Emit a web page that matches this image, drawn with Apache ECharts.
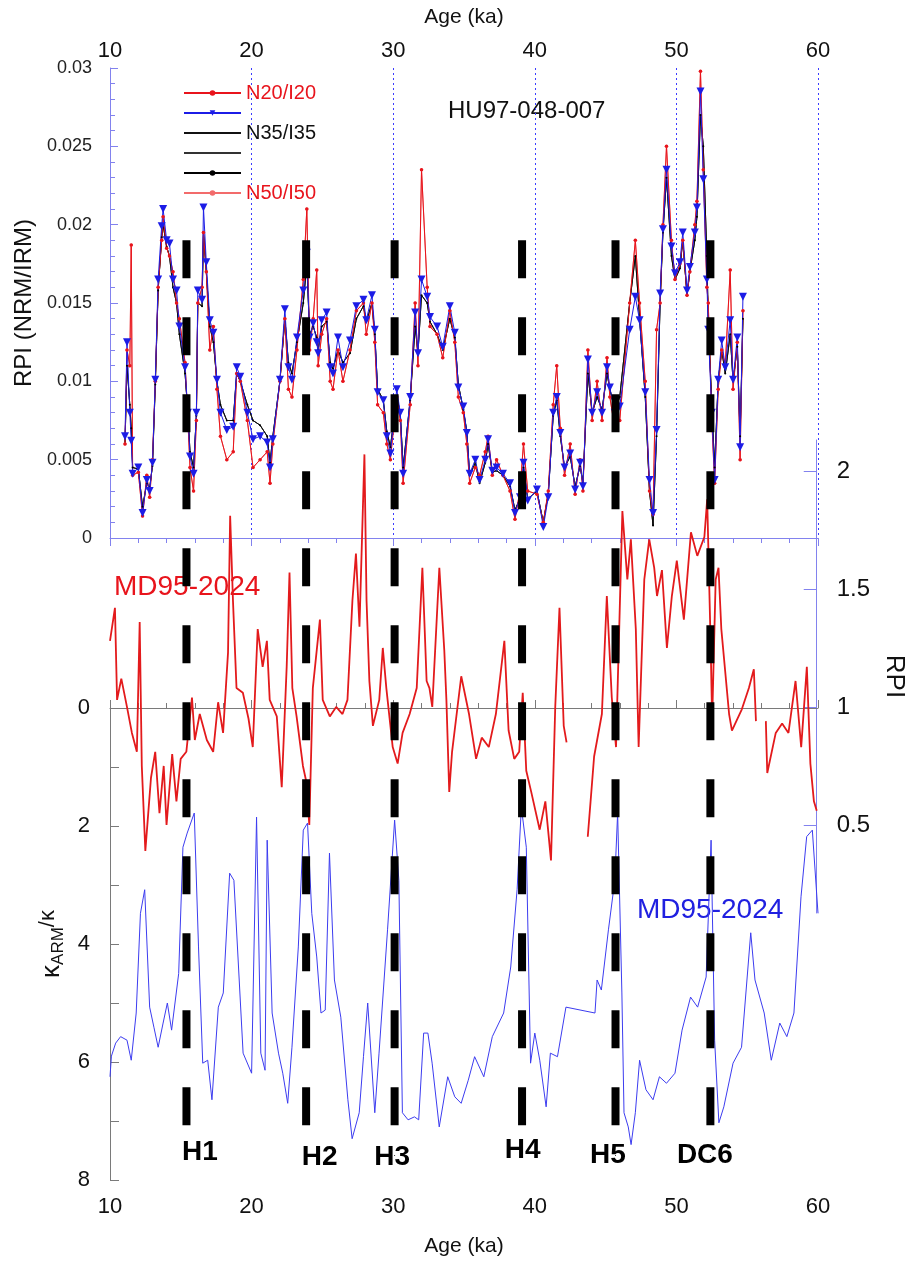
<!DOCTYPE html>
<html>
<head>
<meta charset="utf-8">
<script src="https://cdn.jsdelivr.net/npm/echarts@6/dist/echarts.min.js"></script>
<style>
html, body { margin: 0; padding: 0; background: #fff; }
#chart { width: 915px; height: 1261px; }
</style>
</head>
<body>
<div id="chart"></div>
<script>
// HU97-048-007 relative paleointensity
var huAge = [
  11.06, 11.2, 11.4, 11.5, 11.6, 12.0, 12.3, 12.6, 12.8, 13.0,
  13.2, 13.4, 13.65, 13.75, 14.0, 14.2, 14.45, 14.7, 14.9, 15.3,
  15.5, 15.65, 15.9, 16.1, 16.2, 16.5, 16.6, 16.8, 17.05, 17.3,
  17.55, 17.8, 18.25, 18.7, 18.95, 19.2, 19.7, 20.1, 20.6, 21.1,
  21.3, 21.5, 22.0, 22.35, 22.6, 22.85, 23.2, 23.65, 23.9, 24.1,
  24.35, 24.6, 24.7, 24.95, 25.3, 25.55, 25.75, 26.1, 26.45, 26.95,
  27.4, 27.9, 28.1, 28.5, 28.7, 28.9, 29.3, 29.55, 29.8, 30.25,
  30.5, 30.7, 31.2, 31.55, 31.75, 32.0, 32.4, 32.6, 33.1, 33.5,
  34.0, 34.35, 34.6, 34.95, 35.2, 35.4, 35.8, 36.1, 36.5, 36.7,
  37.0, 37.3, 37.75, 38.25, 38.6, 38.95, 39.2, 39.5, 40.15, 40.6,
  40.95, 41.3, 41.55, 41.8, 42.1, 42.5, 42.85, 43.2, 43.4, 43.75,
  44.05, 44.4, 44.75, 45.1, 45.3, 45.65, 46.0, 46.7, 47.1, 47.4,
  47.8, 48.1, 48.35, 48.6, 48.85, 49.05, 49.3, 49.65, 49.9, 50.25,
  50.45, 50.75, 50.95, 51.3, 51.45, 51.7, 51.9, 52.15, 52.25, 52.5,
  52.7, 52.95, 53.2, 53.45, 53.8, 54.0, 54.3, 54.5, 54.7
];
var huN20 = [
  0.0060, 0.0120, 0.0110, 0.0187, 0.0040, 0.0042, 0.0014, 0.0040, 0.0026, 0.0050,
  0.0100, 0.0160, 0.0190, 0.0205, 0.0185, 0.0180, 0.0170, 0.0150, 0.0140, 0.0112,
  0.0075, 0.0045, 0.0030, 0.0075, 0.0150, 0.0160, 0.0195, 0.0170, 0.0120, 0.0135,
  0.0095, 0.0065, 0.0050, 0.0055, 0.0105, 0.0100, 0.0075, 0.0045, 0.0050, 0.0055,
  0.0035, 0.0060, 0.0100, 0.0140, 0.0095, 0.0090, 0.0120, 0.0165, 0.0210, 0.0120,
  0.0140, 0.0171, 0.0110, 0.0130, 0.0140, 0.0100, 0.0095, 0.0120, 0.0100, 0.0120,
  0.0145, 0.0150, 0.0130, 0.0150, 0.0125, 0.0085, 0.0080, 0.0060, 0.0050, 0.0090,
  0.0075, 0.0035, 0.0085, 0.0150, 0.0110, 0.0235, 0.0160, 0.0135, 0.0130, 0.0115,
  0.0145, 0.0125, 0.0090, 0.0080, 0.0060, 0.0035, 0.0045, 0.0040, 0.0055, 0.0065,
  0.0040, 0.0050, 0.0040, 0.0030, 0.0012, 0.0030, 0.0060, 0.0030, 0.0028, 0.0010,
  0.0030, 0.0085, 0.0110, 0.0070, 0.0040, 0.0060, 0.0028, 0.0050, 0.0030, 0.0120,
  0.0075, 0.0100, 0.0075, 0.0115, 0.0090, 0.0070, 0.0075, 0.0150, 0.0190, 0.0150,
  0.0100, 0.0030, 0.0015, 0.0133, 0.0150, 0.0200, 0.0250, 0.0190, 0.0165, 0.0175,
  0.0190, 0.0155, 0.0170, 0.0200, 0.0215, 0.0298, 0.0235, 0.0160, 0.0150, 0.0075,
  0.0035, 0.0095, 0.0120, 0.0110, 0.0171, 0.0095, 0.0125, 0.0050, 0.0145
];
var huN35 = [
  0.0065, 0.0125, 0.0080, 0.0062, 0.0041, 0.0045, 0.0016, 0.0037, 0.0030, 0.0048,
  0.0101, 0.0165, 0.0199, 0.0210, 0.0190, 0.0188, 0.0165, 0.0158, 0.0135, 0.0109,
  0.0080, 0.0052, 0.0041, 0.0080, 0.0158, 0.0152, 0.0211, 0.0176, 0.0139, 0.0131,
  0.0101, 0.0080, 0.0069, 0.0071, 0.0109, 0.0103, 0.0080, 0.0063, 0.0065, 0.0061,
  0.0045, 0.0063, 0.0101, 0.0146, 0.0109, 0.0101, 0.0128, 0.0158, 0.0182, 0.0128,
  0.0137, 0.0125, 0.0118, 0.0139, 0.0144, 0.0109, 0.0105, 0.0128, 0.0109, 0.0126,
  0.0148, 0.0152, 0.0139, 0.0155, 0.0133, 0.0093, 0.0088, 0.0065, 0.0054, 0.0095,
  0.0080, 0.0041, 0.0090, 0.0144, 0.0118, 0.0165, 0.0154, 0.0141, 0.0135, 0.0122,
  0.0148, 0.0131, 0.0096, 0.0084, 0.0067, 0.0041, 0.0050, 0.0037, 0.0050, 0.0063,
  0.0043, 0.0045, 0.0041, 0.0035, 0.0016, 0.0026, 0.0048, 0.0024, 0.0031, 0.0007,
  0.0026, 0.0080, 0.0090, 0.0067, 0.0045, 0.0054, 0.0031, 0.0048, 0.0033, 0.0114,
  0.0080, 0.0093, 0.0080, 0.0109, 0.0096, 0.0080, 0.0084, 0.0133, 0.0154, 0.0139,
  0.0093, 0.0037, 0.0016, 0.0069, 0.0156, 0.0197, 0.0235, 0.0186, 0.0169, 0.0176,
  0.0195, 0.0158, 0.0173, 0.0195, 0.0211, 0.0285, 0.0229, 0.0165, 0.0133, 0.0080,
  0.0037, 0.0101, 0.0126, 0.0109, 0.0139, 0.0101, 0.0128, 0.0058, 0.0154
];
var huBlack = [
  0.0060, 0.0110, 0.0085, 0.0070, 0.0045, 0.0044, 0.0020, 0.0035, 0.0032, 0.0046,
  0.0098, 0.0158, 0.0192, 0.0200, 0.0186, 0.0180, 0.0160, 0.0150, 0.0130, 0.0105,
  0.0080, 0.0055, 0.0045, 0.0078, 0.0150, 0.0148, 0.0195, 0.0170, 0.0135, 0.0125,
  0.0100, 0.0085, 0.0075, 0.0075, 0.0105, 0.0100, 0.0085, 0.0075, 0.0072, 0.0065,
  0.0048, 0.0065, 0.0100, 0.0140, 0.0112, 0.0105, 0.0125, 0.0150, 0.0175, 0.0130,
  0.0135, 0.0128, 0.0120, 0.0135, 0.0138, 0.0112, 0.0108, 0.0120, 0.0112, 0.0118,
  0.0140, 0.0148, 0.0138, 0.0150, 0.0130, 0.0095, 0.0088, 0.0068, 0.0058, 0.0090,
  0.0080, 0.0045, 0.0088, 0.0135, 0.0118, 0.0155, 0.0150, 0.0138, 0.0130, 0.0120,
  0.0140, 0.0128, 0.0098, 0.0082, 0.0068, 0.0040, 0.0048, 0.0035, 0.0048, 0.0060,
  0.0042, 0.0043, 0.0040, 0.0033, 0.0018, 0.0025, 0.0045, 0.0025, 0.0030, 0.0010,
  0.0028, 0.0078, 0.0088, 0.0065, 0.0045, 0.0052, 0.0033, 0.0046, 0.0035, 0.0105,
  0.0080, 0.0090, 0.0082, 0.0105, 0.0095, 0.0082, 0.0090, 0.0150, 0.0180, 0.0140,
  0.0090, 0.0030, 0.0008, 0.0065, 0.0150, 0.0195, 0.0230, 0.0180, 0.0165, 0.0172,
  0.0190, 0.0155, 0.0170, 0.0190, 0.0205, 0.0270, 0.0250, 0.0180, 0.0140, 0.0085,
  0.0045, 0.0100, 0.0120, 0.0105, 0.0130, 0.0100, 0.0122, 0.0065, 0.0140
];

// MD95-2024 RPI (right axis)
var mdAge = [
  10.0, 10.35, 10.5, 10.8, 11.2, 11.55, 11.9, 12.1, 12.25, 12.5,
  12.9, 13.2, 13.5, 13.8, 14.0, 14.4, 14.7, 15.0, 15.4, 15.8,
  16.0, 16.35, 16.85, 17.3, 17.65, 18.0, 18.35, 18.5, 18.7, 18.95,
  19.4, 19.8, 20.1, 20.45, 20.8, 21.1, 21.3, 21.8, 22.15, 22.5,
  22.7, 22.9, 23.2, 23.65, 23.9, 24.1, 24.35, 24.85, 25.05, 25.55,
  26.0, 26.45, 26.8, 27.15, 27.4, 27.65, 28.0, 28.15, 28.35, 28.6,
  29.05, 29.3, 29.55, 30.0, 30.35, 30.7, 31.2, 31.7, 32.1, 32.4,
  32.6, 32.8, 33.3, 33.65, 33.8, 34.0, 34.2, 34.85, 35.4, 35.9,
  36.3, 36.8, 37.3, 37.9, 38.2, 38.6, 38.95, 39.2, 39.45, 39.8,
  40.4, 40.8, 41.2, 41.5, 41.8, 42.1, 42.3, 43.6, 43.8, 44.0,
  44.25, 44.8, 45.15, 45.5, 45.8, 46.25, 46.6, 46.85, 47.2, 47.4,
  47.8, 48.15, 48.5, 48.7, 49.05, 49.4, 49.75, 50.1, 50.6, 51.1,
  51.55, 52.05, 52.25, 52.5, 52.6, 52.85, 53.05, 53.25, 53.8, 54.0,
  54.7, 55.2, 55.55, 55.7, 56.0, 56.4, 56.5, 57.1, 57.55, 58.0,
  58.5, 58.9, 59.3, 59.55, 59.8, 60.0
];
var mdRpi = [
  1.28, 1.42, 1.03, 1.12, 1.00, 0.89, 0.81, 1.36, 0.75, 0.39,
  0.70, 0.81, 0.55, 0.75, 0.50, 0.80, 0.60, 0.78, 0.81, 1.04,
  0.86, 0.97, 0.86, 0.81, 1.02, 0.89, 1.23, 1.81, 1.45, 1.08,
  1.06, 0.95, 0.83, 1.33, 1.17, 1.28, 1.03, 0.96, 0.66, 1.17,
  1.57, 1.08, 0.96, 0.75, 0.68, 0.50, 1.08, 1.37, 1.03, 0.96,
  1.00, 0.97, 1.03, 1.45, 1.65, 1.34, 2.07, 1.45, 1.11, 0.92,
  1.03, 1.25, 1.08, 0.83, 0.76, 0.89, 0.97, 1.08, 1.59, 1.11,
  1.08, 1.00, 1.59, 1.24, 1.03, 0.64, 0.81, 1.13, 0.97, 0.78,
  0.87, 0.83, 0.97, 1.28, 0.90, 0.78, 0.81, 1.06, 0.73, 0.64,
  0.48, 0.60, 0.35, 1.00, 1.42, 0.92, 0.85, null, 0.45, 0.60,
  0.79, 0.97, 1.47, 1.04, 0.83, 1.83, 1.54, 1.71, 1.33, 0.83,
  1.54, 1.71, 1.59, 1.47, 1.58, 1.25, 1.47, 1.62, 1.37, 1.74,
  1.64, 1.72, 1.88, 1.25, 0.94, 1.54, 1.59, 1.33, 0.97, 0.90,
  0.99, 1.08, 1.16, 0.94, null, 0.94, 0.72, 0.89, 0.93, 0.89,
  1.11, 0.83, 1.17, 0.76, 0.60, 0.56
];

// MD95-2024 kARM/k (bottom panel, inverted axis)
var kAge = [
  10.0, 10.1, 10.4, 10.75, 11.2, 11.5, 11.85, 12.15, 12.45, 12.8,
  13.1, 13.4, 13.75, 14.05, 14.35, 14.85, 15.15, 15.45, 15.95, 16.25,
  16.55, 16.9, 17.2, 17.65, 18.0, 18.45, 18.75, 19.4, 20.0, 20.35,
  20.65, 20.95, 21.1, 21.45, 21.9, 22.2, 22.55, 22.85, 23.3, 23.65,
  23.95, 24.25, 24.6, 24.9, 25.2, 25.5, 25.85, 26.3, 26.8, 27.1,
  27.6, 27.9, 28.2, 28.7, 29.0, 29.6, 30.1, 30.4, 30.65, 31.05,
  31.5, 31.8, 32.15, 32.45, 32.75, 33.25, 33.85, 34.35, 34.8, 35.3,
  35.75, 36.4, 37.0, 37.8, 38.3, 38.75, 39.05, 39.4, 39.7, 40.0,
  40.35, 40.8, 41.1, 41.6, 42.2, 44.25, 44.4, 44.7, 45.2, 45.65,
  45.85, 46.15, 46.3, 46.6, 46.8, 47.1, 47.4, 47.85, 48.35, 48.8,
  49.3, 49.9, 50.4, 51.0, 51.5, 52.1, 52.45, 52.7, 53.0, 53.35,
  54.0, 54.6, 55.25, 55.55, 56.2, 56.7, 57.3, 57.8, 58.3, 58.8,
  59.2, 59.6, 60.0
];
var kVal = [
  6.25, 5.90, 5.68, 5.57, 5.63, 5.97, 5.17, 3.48, 3.08, 5.07,
  5.41, 5.75, 5.34, 5.00, 5.46, 4.50, 2.36, 2.12, 1.78, 4.05,
  6.02, 5.97, 6.64, 5.07, 4.83, 2.80, 2.92, 5.85, 6.19, 1.85,
  5.85, 6.14, 2.24, 5.17, 5.85, 6.19, 6.70, 5.75, 4.05, 2.07,
  1.95, 3.48, 4.22, 5.17, 5.12, 2.46, 4.61, 5.24, 6.64, 7.30,
  6.86, 5.91, 5.00, 6.86, 5.85, 3.76, 1.90, 2.92, 6.86, 6.98,
  6.93, 6.98, 5.51, 5.51, 6.02, 7.10, 6.25, 6.59, 6.70, 6.31,
  5.91, 6.25, 5.57, 5.17, 4.39, 3.08, 1.68, 2.36, 6.02, 5.51,
  5.97, 6.76, 5.85, 5.91, 5.07, 5.17, 4.61, 4.78, 3.76, 2.92,
  1.78, 4.83, 6.86, 7.10, 7.40, 6.86, 5.97, 6.47, 6.64, 6.25,
  6.36, 6.19, 5.46, 4.90, 5.07, 4.56, 2.24, 5.63, 7.03, 6.76,
  6.02, 5.75, 3.81, 4.61, 5.17, 5.97, 5.34, 5.57, 5.17, 3.20,
  2.18, 2.07, 3.48
];

// Heinrich events
var eventNames = ['H1', 'H2', 'H3', 'H4', 'H5', 'DC6'];
var eventAges = [15.4, 23.85, 30.1, 39.1, 45.7, 52.4];
var rpiTicks = [0.5, 1, 1.5, 2];

// styling only
var eventLabelShift = [[14, -3], [14, 2], [-2, 2], [1, -5], [-7, 0], [-5, 0]];
var dashTop = 0.155, dashBottom = 0.955, labelLevel = 0.978;
var blueAxis = '#8282ee';
var grayAxis = '#7a7a7a';
var font = '"Liberation Sans", Arial, sans-serif';

function pairs (xs, ys) {
  return xs.map(function (x, i) { return [x, ys[i]] })
}

var chart = echarts.init(document.getElementById('chart'), null, { renderer: 'canvas' })

var series = [
  { name: 'N50/I50', type: 'line', xAxisIndex: 0, yAxisIndex: 0, data: pairs(huAge, huN20),
    symbol: 'circle', symbolSize: 3, showAllSymbol: true,
    lineStyle: { color: '#f26b6b', width: 1 }, itemStyle: { color: '#f26b6b' } },
  { name: 'N35/I35', type: 'line', xAxisIndex: 0, yAxisIndex: 0, data: pairs(huAge, huBlack),
    symbol: 'none', lineStyle: { color: '#111', width: 0.8 }, itemStyle: { color: '#111' } },
  { name: '  ', type: 'line', xAxisIndex: 0, yAxisIndex: 0, data: pairs(huAge, huBlack),
    symbol: 'none', lineStyle: { color: '#333', width: 0.8 }, itemStyle: { color: '#333' } },
  { name: '   ', type: 'line', xAxisIndex: 0, yAxisIndex: 0, data: pairs(huAge, huBlack),
    symbol: 'circle', symbolSize: 2, showAllSymbol: true,
    lineStyle: { color: '#000', width: 0.8 }, itemStyle: { color: '#000' } },
  { name: 'N20/I20', type: 'line', xAxisIndex: 0, yAxisIndex: 0, data: pairs(huAge, huN20),
    symbol: 'circle', symbolSize: 3.5, showAllSymbol: true,
    lineStyle: { color: '#e8141c', width: 1 }, itemStyle: { color: '#e8141c' } },
  { name: ' ', type: 'line', xAxisIndex: 0, yAxisIndex: 0, data: pairs(huAge, huN35),
    symbol: 'triangle', symbolRotate: 180, symbolSize: 8, showAllSymbol: true,
    lineStyle: { color: '#1c1ce6', width: 1 }, itemStyle: { color: '#1c1ce6' } },
  { name: 'MD95-2024 RPI', type: 'line', xAxisIndex: 1, yAxisIndex: 1, data: pairs(mdAge, mdRpi),
    symbol: 'none', connectNulls: false, clip: false,
    lineStyle: { color: '#e31a1c', width: 1.8 } },
  { name: 'MD95-2024 kARM/k', type: 'line', xAxisIndex: 2, yAxisIndex: 2, data: pairs(kAge, kVal),
    symbol: 'none', lineStyle: { color: '#3c3cf0', width: 1 } }
]

eventAges.forEach(function (age, i) {
  series.push({
    name: eventNames[i], type: 'line', xAxisIndex: 3, yAxisIndex: 3, z: 10, silent: true,
    symbol: 'none', data: [[age, dashTop], [age, dashBottom]],
    lineStyle: { color: '#000', width: 8, type: [38, 39] }
  })
})

series.push({
  name: 'events', type: 'scatter', xAxisIndex: 3, yAxisIndex: 3, z: 11, silent: true,
  symbolSize: 1, itemStyle: { color: '#000', opacity: 1 },
  data: eventNames.map(function (n, i) {
    return { name: n, value: [eventAges[i], labelLevel], label: { offset: eventLabelShift[i] } }
  }),
  label: { show: true, position: [0, 0], align: 'center', verticalAlign: 'middle',
    formatter: '{b}', fontSize: 28, fontWeight: 'bold', color: '#000' }
})

var option = {
  animation: false,
  backgroundColor: '#fff',
  textStyle: { fontFamily: font },
  legend: {
    data: [
      { name: 'N20/I20', textStyle: { color: '#e8141c' } },
      { name: ' ' },
      { name: 'N35/I35', textStyle: { color: '#111' }, itemStyle: { opacity: 0 } },
      { name: '  ', itemStyle: { opacity: 0 } },
      { name: '   ' },
      { name: 'N50/I50', textStyle: { color: '#e8141c' } }
    ],
    orient: 'vertical', left: 178, top: 78,
    itemWidth: 57, itemHeight: 7, itemGap: 0,
    selectedMode: false,
    textStyle: { fontSize: 20, lineHeight: 14.5, fontFamily: font }
  },
  grid: [
    { left: 110, right: 97, top: 68, height: 470 },
    { left: 110, right: 97, top: 440, height: 473 },
    { left: 110, right: 97, top: 708, height: 472 },
    { left: 110, right: 97, top: 68, height: 1112 }
  ],
  xAxis: [
    { gridIndex: 0, type: 'value', position: 'top', min: 10, max: 60, interval: 10,
      axisLine: { lineStyle: { color: blueAxis } },
      axisTick: { inside: true, length: 8, lineStyle: { color: blueAxis } },
      minorTick: { show: true, splitNumber: 5, length: 5, lineStyle: { color: blueAxis } },
      axisLabel: { fontSize: 22, color: '#111', margin: 6 },
      splitLine: { show: true, lineStyle: { color: '#3c3cff', type: [2, 3], width: 1 } },
      name: 'Age (ka)', nameLocation: 'middle', nameGap: 40,
      nameTextStyle: { fontSize: 21, color: '#111' } },
    { gridIndex: 1, type: 'value', min: 10, max: 60, show: false },
    { gridIndex: 2, type: 'value', position: 'bottom', min: 10, max: 60, interval: 10,
      axisLine: { lineStyle: { color: grayAxis } },
      axisTick: { inside: true, length: 8, lineStyle: { color: grayAxis } },
      minorTick: { show: true, splitNumber: 5, length: 5, lineStyle: { color: grayAxis } },
      axisLabel: { fontSize: 22, color: '#111', margin: 16 },
      splitLine: { show: false },
      name: 'Age (ka)', nameLocation: 'middle', nameGap: 56,
      nameTextStyle: { fontSize: 21, color: '#111' } },
    { gridIndex: 3, type: 'value', min: 10, max: 60, show: false }
  ],
  yAxis: [
    { gridIndex: 0, type: 'value', min: 0, max: 0.03, interval: 0.005,
      axisLine: { show: true, lineStyle: { color: blueAxis } },
      axisTick: { show: true, inside: true, length: 8, lineStyle: { color: blueAxis } },
      minorTick: { show: true, splitNumber: 5, length: 5, lineStyle: { color: blueAxis } },
      axisLabel: { fontSize: 18, color: '#222', margin: 18 },
      splitLine: { show: false },
      name: 'RPI (NRM/IRM)', nameLocation: 'middle', nameGap: 73,
      nameTextStyle: { fontSize: 24, color: '#111' } },
    { gridIndex: 1, type: 'value', position: 'right', min: 0.127, max: 2.131,
      axisLine: { show: true, lineStyle: { color: blueAxis } },
      axisTick: { show: true, inside: true, length: 13, customValues: rpiTicks, lineStyle: { color: blueAxis } },
      axisLabel: { fontSize: 24, color: '#111', margin: 20, customValues: rpiTicks },
      splitLine: { show: false },
      name: 'RPI', nameLocation: 'middle', nameRotate: -90, nameGap: 62,
      nameTextStyle: { fontSize: 26, color: '#111' } },
    { gridIndex: 2, type: 'value', inverse: true, min: 0, max: 8, interval: 1,
      axisLine: { show: true, lineStyle: { color: grayAxis } },
      axisTick: { show: true, inside: true, length: 9, lineStyle: { color: grayAxis } },
      axisLabel: { fontSize: 22, color: '#111', margin: 20,
        formatter: function (v) { return v % 2 === 0 ? String(v) : '' } },
      splitLine: { show: false },
      name: '{k|κ}{s|ARM}{u|/κ}', nameLocation: 'middle', nameGap: 42,
      nameTextStyle: { color: '#111', rich: {
        k: { fontSize: 26, color: '#111' },
        s: { fontSize: 17, color: '#111', verticalAlign: 'bottom', padding: [12, 0, 0, 0] },
        u: { fontSize: 22, color: '#111', verticalAlign: 'top', padding: [0, 0, 8, 0] }
      } } },
    { gridIndex: 3, type: 'value', min: 0, max: 1, inverse: true, show: false }
  ],
  graphic: [
    { type: 'text', x: 448, y: 111, style: { text: 'HU97-048-007', fill: '#111', font: '24px ' + font, verticalAlign: 'middle' } },
    { type: 'text', x: 114, y: 587, style: { text: 'MD95-2024', fill: '#e8141c', font: '28px ' + font, verticalAlign: 'middle' } },
    { type: 'text', x: 637, y: 910, style: { text: 'MD95-2024', fill: '#2020e0', font: '28px ' + font, verticalAlign: 'middle' } }
  ],
  series: series
}

chart.setOption(option)
window.addEventListener('resize', function () {
  chart.resize()
})
</script>
</body>
</html>
